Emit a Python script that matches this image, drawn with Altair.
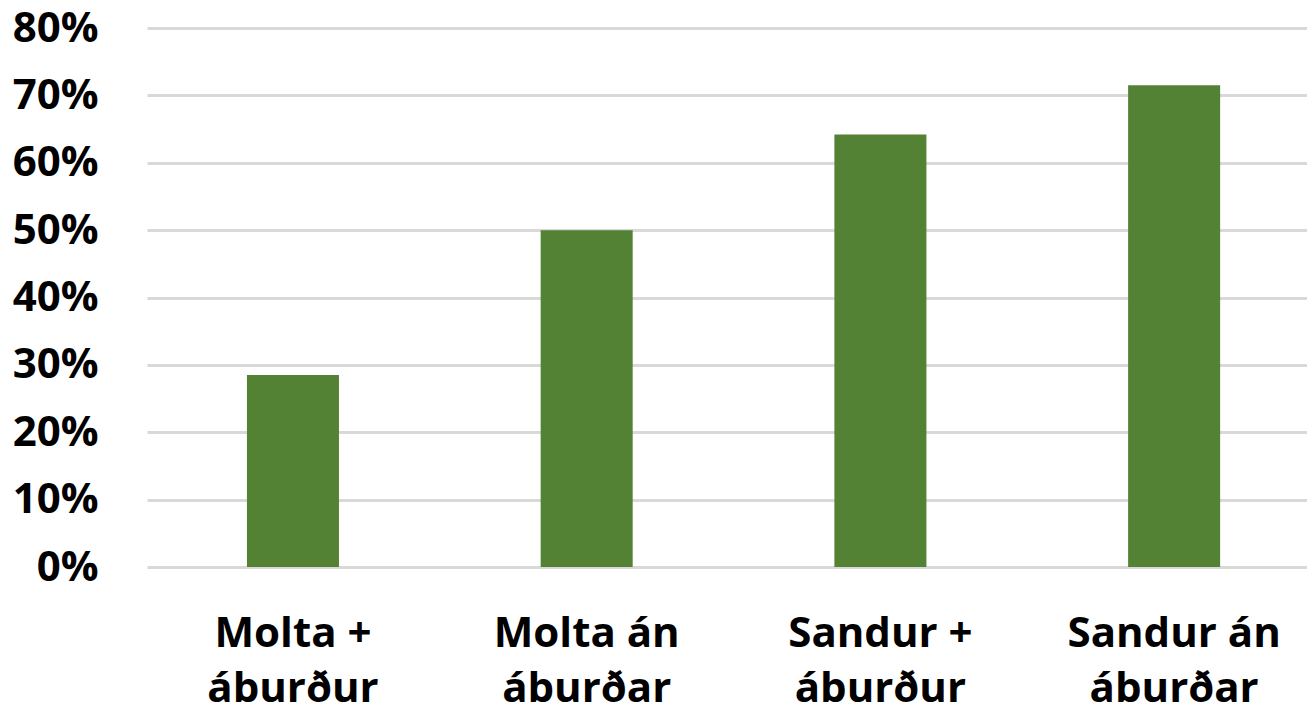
import altair as alt
import pandas as pd

categories = ["Molta + áburður", "Molta án áburðar", "Sandur + áburður", "Sandur án áburðar"]
values = [0.285, 0.50, 0.642, 0.715]

df = pd.DataFrame({"cat": categories, "val": values})

label_expr = ("[substring(datum.label, 0, lastindexof(datum.label, ' ')), "
              "substring(datum.label, lastindexof(datum.label, ' ') + 1)]")

chart = alt.Chart(df).mark_bar(color="#548235").encode(
    x=alt.X("cat:N", sort=categories, title=None,
            scale=alt.Scale(paddingInner=0.6867, paddingOuter=0.318, align=0.535),
            axis=alt.Axis(labelAngle=0, domain=False, ticks=False, grid=False,
                          labelExpr=label_expr, labelFontSize=42, labelFont="Open Sans",
                          labelFontWeight="bold", labelColor="#000000", labelLimit=0,
                          labelLineHeight=55, labelPadding=46, labelBaseline="top")),
    y=alt.Y("val:Q", title=None,
            scale=alt.Scale(domain=[0, 0.8], nice=False),
            axis=alt.Axis(format=".0%", values=[0, 0.1, 0.2, 0.3, 0.4, 0.5, 0.6, 0.7, 0.8],
                          domain=False, ticks=False, grid=True, gridColor="#d9d9d9",
                          gridWidth=3, labelFontSize=42, labelFont="Open Sans",
                          labelFontWeight="bold", labelColor="#000000", labelPadding=49)),
).properties(
    width=1160, height=539,
    autosize=alt.AutoSizeParams(type="none"),
    padding={"left": 139, "top": 20, "right": 0, "bottom": 140},
).configure(background="white").configure_view(strokeWidth=0, stroke=None)

chart.save("out.html", embed_options={"renderer": "svg", "actions": False})
